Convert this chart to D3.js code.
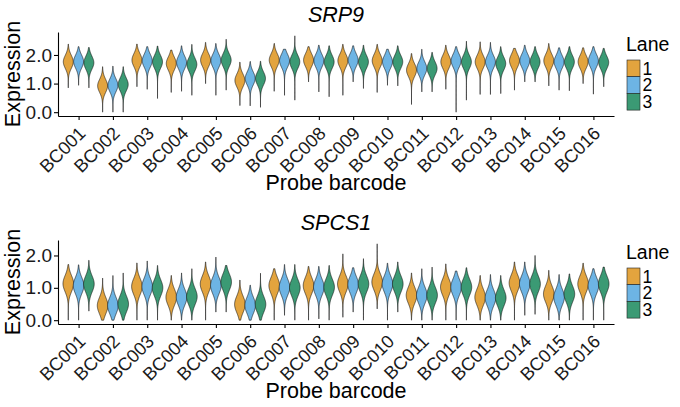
<!DOCTYPE html>
<html>
<head>
<meta charset="utf-8">
<script src="https://cdn.jsdelivr.net/npm/d3@7"></script>
<style>
  body { margin: 0; background: #fff; }
  text { font-family: "Liberation Sans", Arial, sans-serif; }
</style>
</head>
<body>
<script>
const W = 680, H = 407
const MARGIN = { LEFT: 58, RIGHT: 614 }
const PANEL_H = 84

const barcodes = ["BC001", "BC002", "BC003", "BC004", "BC005", "BC006", "BC007", "BC008",
  "BC009", "BC010", "BC011", "BC012", "BC013", "BC014", "BC015", "BC016"]
const lanes = ["1", "2", "3"]
const laneColors = ["#E3A43E", "#6DB4E4", "#3B9A74"]

// rows = barcodes, columns = lanes 1..3
const srp9Center = [
  [1.76, 1.77, 1.73], [0.92, 0.94, 0.97], [1.82, 1.80, 1.76], [1.70, 1.74, 1.67],
  [1.82, 1.80, 1.82], [1.11, 1.18, 1.18], [1.82, 1.80, 1.76], [1.82, 1.80, 1.76],
  [1.80, 1.82, 1.76], [1.80, 1.76, 1.76], [1.47, 1.53, 1.53], [1.76, 1.80, 1.76],
  [1.76, 1.76, 1.70], [1.80, 1.80, 1.76], [1.80, 1.76, 1.76], [1.76, 1.80, 1.74]
]
const srp9Min = [
  [0.85, 0.94, 0.85], [0.00, 0.00, 0.00], [0.89, 0.80, 0.48], [0.69, 0.73, 0.59],
  [1.00, 0.59, 0.77], [0.23, 0.22, 0.17], [0.73, 0.59, 0.42], [1.06, 0.71, 0.54],
  [0.59, 1.06, 0.83], [0.69, 0.94, 0.92], [0.27, 0.71, 0.71], [0.80, 0.00, 0.42],
  [0.62, 0.62, 0.65], [0.77, 1.06, 1.06], [0.92, 0.77, 0.75], [1.00, 0.63, 0.89]
]
const srp9Max = [
  [2.38, 2.29, 2.26], [1.59, 1.61, 1.59], [2.38, 2.29, 2.31], [2.17, 2.32, 2.37],
  [2.44, 2.40, 2.55], [1.75, 1.77, 1.78], [2.40, 2.20, 2.67], [2.29, 2.34, 2.32],
  [2.37, 2.32, 2.34], [2.37, 2.20, 2.32], [2.05, 2.20, 2.09], [2.34, 2.29, 2.48],
  [2.46, 2.44, 2.29], [2.23, 2.34, 2.29], [2.40, 2.25, 2.29], [2.25, 2.29, 2.23]
]
const srp9Spread = 0.23

const spcs1Center = [
  [1.13, 1.07, 1.12], [0.45, 0.45, 0.50], [1.04, 1.04, 1.00], [0.71, 0.71, 0.73],
  [1.12, 1.07, 1.18], [0.49, 0.46, 0.49], [1.07, 1.02, 1.00], [1.07, 1.02, 1.02],
  [1.12, 1.10, 1.12], [1.18, 1.12, 1.12], [0.77, 0.77, 0.77], [1.02, 1.02, 1.02],
  [0.71, 0.69, 0.69], [1.15, 1.12, 1.12], [0.81, 0.71, 0.81], [1.12, 1.07, 1.12]
]
const spcs1Min = [
  [0.00, 0.00, 0.28], [0.00, 0.00, 0.00], [0.00, 0.00, 0.00], [0.00, 0.00, 0.00],
  [0.00, 0.25, 0.25], [0.00, 0.00, 0.00], [0.00, 0.15, 0.00], [0.00, 0.04, 0.00],
  [0.09, 0.25, 0.00], [0.35, 0.00, 0.25], [0.00, 0.00, 0.00], [0.00, 0.00, 0.00],
  [0.00, 0.00, 0.00], [0.00, 0.15, 0.18], [0.00, 0.00, 0.00], [0.00, 0.00, 0.00]
]
const spcs1Max = [
  [1.72, 1.71, 1.85], [1.30, 1.38, 1.46], [1.77, 1.83, 1.69], [1.38, 1.46, 1.59],
  [1.80, 1.95, 1.69], [1.24, 1.08, 1.45], [1.59, 1.72, 1.72], [1.66, 1.66, 1.69],
  [2.05, 1.62, 1.90], [2.36, 1.76, 1.80], [1.46, 1.59, 1.64], [1.74, 1.52, 1.62],
  [1.38, 1.41, 1.38], [1.80, 1.80, 2.00], [1.54, 1.41, 1.43], [1.76, 1.59, 1.64]
]
const spcs1Spread = 0.25

const yTicks = [0, 1, 2]

const svg = d3.select("body").append("svg")
  .attr("width", W)
  .attr("height", H)

const x = d3.scalePoint()
  .domain(barcodes)
  .range([MARGIN.LEFT, MARGIN.RIGHT])
  .padding(0.6)
const step = x.step()
const dodge = [-0.3, 0, 0.3]

function drawPanel(top, gene, center, mins, maxs, spread, halfW) {
  const g = svg.append("g").attr("transform", `translate(0, ${top})`)

  const lo = d3.min(mins.flat()), hi = d3.max(maxs.flat())
  const pad = (hi - lo) * 0.05
  const y = d3.scaleLinear().domain([lo - pad, hi + pad]).range([PANEL_H, 0])

  // violins
  const cells = []
  barcodes.forEach((bc, i) => {
    lanes.forEach((ln, j) => {
      cells.push({ bc, lane: j, c: center[i][j], min: mins[i][j], max: maxs[i][j] })
    })
  })

  const area = d3.area()
    .y(d => y(d.v))
    .x0(d => d.cx - d.w)
    .x1(d => d.cx + d.w)

  g.selectAll("path.violin")
    .data(cells)
    .enter().append("path")
      .attr("class", "violin")
      .attr("fill", d => laneColors[d.lane])
      .attr("stroke", "#111")
      .attr("stroke-width", 0.6)
      .attr("d", d => {
        const cx = x(d.bc) + dodge[d.lane] * step
        const n = 80
        const pts = d3.range(n + 1).map(k => {
          const v = d.min + (d.max - d.min) * k / n
          const z = (v - d.c) / spread
          return { v, cx, w: halfW * step * Math.exp(-0.5 * z * z) }
        })
        return area(pts)
      })

  // axes
  const yAxis = g.append("g")
    .attr("transform", `translate(${MARGIN.LEFT}, 0)`)
    .call(d3.axisLeft(y).tickValues(yTicks).tickFormat(d3.format(".1f")).tickSize(4).tickSizeOuter(0).tickPadding(2))
  const xAxis = g.append("g")
    .attr("transform", `translate(0, ${PANEL_H})`)
    .call(d3.axisBottom(x).tickSize(4).tickSizeOuter(0))

  ;[yAxis, xAxis].forEach(a => {
    a.select(".domain").attr("stroke", "#000").attr("stroke-width", 1.1)
    a.selectAll(".tick line").attr("stroke", "#000").attr("stroke-width", 1.1)
    a.selectAll(".tick text").attr("fill", "#1a1a1a").attr("font-size", 19)
      .attr("font-family", "Liberation Sans, Arial, sans-serif")
  })

  xAxis.selectAll(".tick text")
    .attr("font-size", 18.2)
    .attr("text-anchor", "end")
    .attr("x", 0).attr("y", 0).attr("dy", 0)
    .attr("transform", "translate(7.5, 18.5) rotate(-45)")

  // titles
  g.append("text")
    .attr("x", (MARGIN.LEFT + MARGIN.RIGHT) / 2)
    .attr("y", -10)
    .attr("text-anchor", "middle")
    .attr("font-size", 21.5)
    .attr("font-style", "italic")
    .text(gene)

  g.append("text")
    .attr("transform", `translate(20, ${PANEL_H / 2}) rotate(-90)`)
    .attr("text-anchor", "middle")
    .attr("font-size", 21.5)
    .text("Expression")

  g.append("text")
    .attr("x", (MARGIN.LEFT + MARGIN.RIGHT) / 2)
    .attr("y", PANEL_H + 74)
    .attr("text-anchor", "middle")
    .attr("font-size", 21.5)
    .text("Probe barcode")

  // legend
  const leg = g.append("g").attr("transform", "translate(627, 0)")
  leg.append("text")
    .attr("x", -1).attr("y", 18.7)
    .attr("font-size", 19.5)
    .text("Lane")
  const keyH = 16.7
  lanes.forEach((ln, j) => {
    leg.append("rect")
      .attr("x", 0).attr("y", 28 + j * keyH)
      .attr("width", 13).attr("height", keyH)
      .attr("fill", laneColors[j])
      .attr("stroke", "#222").attr("stroke-width", 0.6)
    leg.append("text")
      .attr("x", 15.5).attr("y", 28 + j * keyH + keyH / 2 + 6.3)
      .attr("font-size", 17.5)
      .text(ln)
  })
}

drawPanel(32, "SRP9", srp9Center, srp9Min, srp9Max, srp9Spread, 0.145)
drawPanel(240, "SPCS1", spcs1Center, spcs1Min, spcs1Max, spcs1Spread, 0.155)
</script>
</body>
</html>
